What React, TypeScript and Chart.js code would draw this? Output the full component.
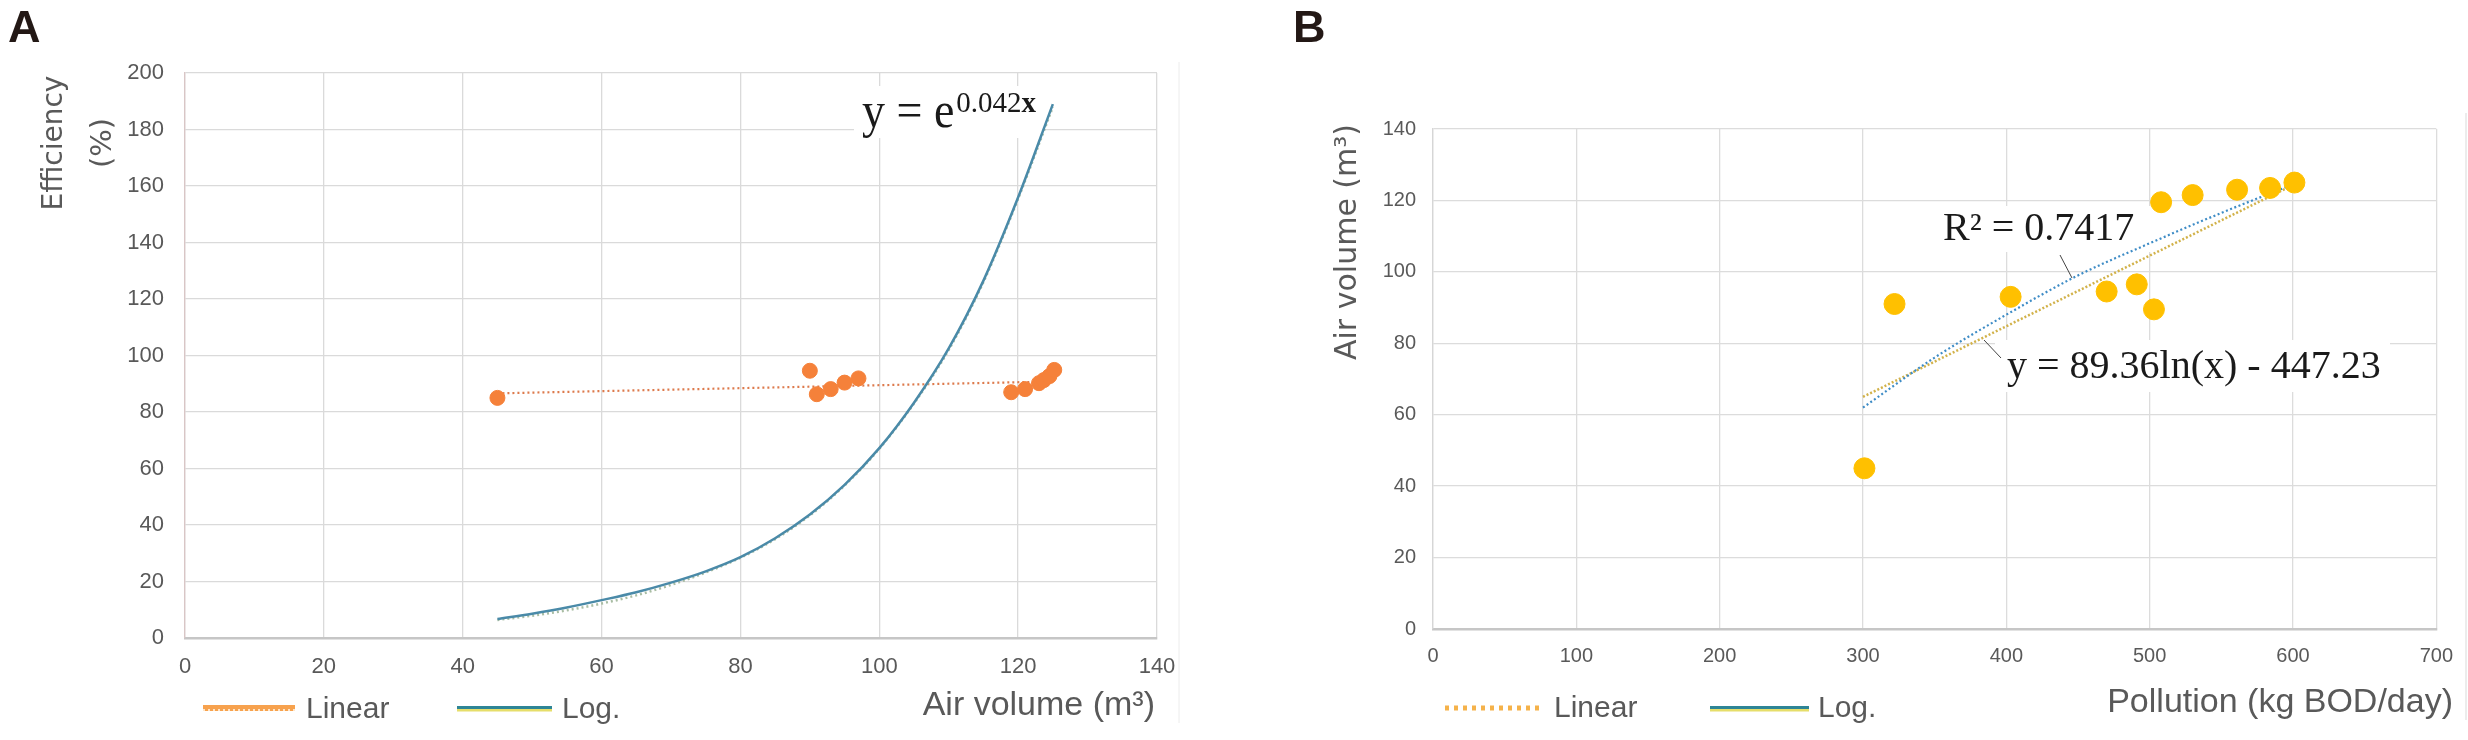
import React, { useEffect, useRef } from "react";
import { Chart, registerables } from "chart.js";

Chart.register(...registerables);

// ---------------- Panel A : Efficiency vs air volume ----------------
const effAirVolume = [45, 90, 91, 93, 95, 97, 119, 121, 123, 123.7, 124.5, 125.2];
const effPercent = [85, 94.6, 86.3, 88.1, 90.4, 91.9, 87, 88.1, 90.2, 91.3, 92.7, 94.9];
const effLinearX = [45, 125];
const effLinearY = [86.6, 90.8];
const effExpX = [45, 50, 55, 60, 65, 70, 75, 80, 85, 90, 95, 100, 105, 110, 115, 120, 125];
const effExpY = [6.7, 8.6, 10.8, 13.4, 16.2, 19.6, 23.6, 28.6, 35.3, 43.7, 54.2, 67.2, 83.3, 102.5, 126.5, 156, 189];
const effExpDotY = [6.4, 7.9, 9.8, 12.2, 15.1, 18.8, 23.2, 28.4, 35, 43.4, 54, 67, 83, 102, 126, 155.5, 188];
const xTicksA = [0, 20, 40, 60, 80, 100, 120, 140];
const yTicksA = [0, 20, 40, 60, 80, 100, 120, 140, 160, 180, 200];

// ---------------- Panel B : Air volume vs pollution ----------------
const pollutionKg = [301, 322, 403, 470, 491, 503, 508, 530, 561, 584, 601];
const airVolumeB = [45, 91, 93, 94.5, 96.5, 89.5, 119.5, 121.5, 123, 123.5, 125];
const linTrendX = [300, 600];
const linTrendY = [65, 124.3];
const logTrendX = [300, 350, 400, 450, 500, 550, 600];
const logTrendY = [62, 76, 88, 99, 108, 116.5, 124.5];
const xTicksB = [0, 100, 200, 300, 400, 500, 600, 700];
const yTicksB = [0, 20, 40, 60, 80, 100, 120, 140];

// ---------------- Texts ----------------
const legendLabels = ["Linear", "Log."];
const titleA_y = ["Efficiency", "(%)"];
const titleA_x = "Air volume (m³)";
const titleB_y = "Air volume (m³)";
const titleB_x = "Pollution (kg BOD/day)";
const eqA_base = "y = e";
const eqA_exp = "0.042";
const eqA_var = "x";
const eqB_r2 = "R² = 0.7417";
const eqB_log = "y = 89.36ln(x) - 447.23";

const NARROW = "'Liberation Sans Narrow', 'Liberation Sans', Arial, sans-serif";
const SANS = "'Liberation Sans', Arial, sans-serif";
const WIDE = "'DejaVu Sans', Verdana, sans-serif";
const SERIF = "'Liberation Serif', 'Times New Roman', serif";
const GREY = "#595959";

const pts = (xs: number[], ys: number[]) => xs.map((x, i) => ({ x, y: ys[i] }));

type Deco = (ctx: CanvasRenderingContext2D, chart: any) => void;

const decoPlugin = (before: Deco, after: Deco) => ({
  id: "deco",
  beforeDatasetsDraw(chart: any) {
    const c = chart.ctx;
    c.save();
    before(c, chart);
    c.restore();
  },
  afterDraw(chart: any) {
    const c = chart.ctx;
    c.save();
    after(c, chart);
    c.restore();
  },
});

function rotText(ctx: CanvasRenderingContext2D, text: string, x: number, y: number, font: string) {
  ctx.save();
  ctx.font = font;
  ctx.textAlign = "center";
  ctx.textBaseline = "alphabetic";
  ctx.translate(x, y);
  ctx.rotate(-Math.PI / 2);
  ctx.fillText(text, 0, 0);
  ctx.restore();
}

function line(ctx: CanvasRenderingContext2D, x1: number, y1: number, x2: number, y2: number, color: string, w: number, dash: number[] = []) {
  ctx.save();
  ctx.strokeStyle = color;
  ctx.lineWidth = w;
  ctx.setLineDash(dash);
  ctx.beginPath();
  ctx.moveTo(x1, y1);
  ctx.lineTo(x2, y2);
  ctx.stroke();
  ctx.restore();
}

function legendLog(ctx: CanvasRenderingContext2D, x1: number, x2: number, y: number) {
  line(ctx, x1, y + 1, x2, y + 1, "#E6DE6A", 5);
  line(ctx, x1, y - 0.5, x2, y - 0.5, "#2E8596", 3);
}

function scaleOpts(ticks: number[], axis: "x" | "y", fontSize: number, pad: number, size: number, gridColor: any, border: any) {
  return {
    type: "linear",
    min: ticks[0],
    max: ticks[ticks.length - 1],
    afterBuildTicks: (s: any) => {
      s.ticks = ticks.map((v) => ({ value: v }));
    },
    ticks: { color: GREY, font: { family: NARROW, size: fontSize }, padding: pad, autoSkip: false, maxRotation: 0 },
    grid: { color: gridColor, lineWidth: 1.3, drawTicks: false },
    border,
    afterFit: (s: any) => {
      if (axis === "x") s.height = size;
      else s.width = size;
    },
  };
}

function configA(): any {
  const before: Deco = (ctx) => {
    ctx.fillStyle = "#ffffff";
    ctx.fillRect(854, 86, 190, 52);
  };
  const after: Deco = (ctx) => {
    ctx.fillStyle = GREY;
    rotText(ctx, titleA_y[0], 62, 143, `28px ${WIDE}`);
    rotText(ctx, titleA_y[1], 111, 143, `29px ${WIDE}`);
    ctx.font = `34px ${SANS}`;
    ctx.textAlign = "right";
    ctx.textBaseline = "alphabetic";
    ctx.fillText(titleA_x, 1155, 715);
    // legend
    line(ctx, 203, 708, 295, 708, "#F7A24E", 6);
    line(ctx, 203, 710, 295, 710, "#FFE6C8", 2, [2, 3]);
    ctx.textAlign = "left";
    ctx.font = `30px ${SANS}`;
    ctx.fillText(legendLabels[0], 306, 718);
    legendLog(ctx, 457, 552, 708);
    ctx.fillText(legendLabels[1], 562, 718);
    // equation
    ctx.fillStyle = "#1a1a1a";
    ctx.save();
    ctx.translate(862, 127);
    ctx.scale(0.92, 1);
    ctx.font = `50px ${SERIF}`;
    ctx.fillText(eqA_base, 0, 0);
    const w = ctx.measureText(eqA_base).width * 0.92;
    ctx.restore();
    ctx.font = `29px ${SERIF}`;
    const sx = 862 + w + 2;
    ctx.fillText(eqA_exp, sx, 112);
    const w2 = ctx.measureText(eqA_exp).width;
    ctx.font = `bold 29px ${SERIF}`;
    ctx.fillText(eqA_var, sx + w2, 112);
    // panel letter
    ctx.fillStyle = "#231815";
    ctx.font = `bold 45px ${SANS}`;
    ctx.fillText("A", 8, 42);
    line(ctx, 1179, 62, 1179, 723, "#ececec", 1);
  };
  return {
    type: "scatter",
    data: {
      datasets: [
        { data: pts(effAirVolume, effPercent), backgroundColor: "#F5813A", borderColor: "#F5813A", pointRadius: 7.5, pointHoverRadius: 7.5, order: 0 },
        { data: pts(effLinearX, effLinearY), showLine: true, borderColor: "#DD7A4C", borderWidth: 2.2, borderDash: [2, 3], pointRadius: 0, order: 3 },
        { data: pts(effExpX, effExpDotY), showLine: true, borderColor: "#A9BDA4", borderWidth: 2.5, borderDash: [2, 3], pointRadius: 0, cubicInterpolationMode: "monotone", order: 2 },
        { data: pts(effExpX, effExpY), showLine: true, borderColor: "#4A8AA8", borderWidth: 2.5, pointRadius: 0, cubicInterpolationMode: "monotone", order: 1 },
      ],
    },
    options: {
      responsive: false,
      animation: false,
      events: [],
      plugins: { legend: { display: false }, tooltip: { enabled: false } },
      layout: { padding: { left: 0, top: 73, right: 83, bottom: 0 } },
      scales: {
        x: scaleOpts(xTicksA, "x", 22, 16, 102, "#dadada", { color: "#c6c6c6", width: 2.5 }),
        y: scaleOpts(yTicksA, "y", 22, 21, 185, "#dadada", { color: "#d9c6c6", width: 1.3 }),
      },
    },
    plugins: [decoPlugin(before, after)],
  };
}

function configB(): any {
  const OX = 1240;
  const before: Deco = (ctx) => {
    ctx.fillStyle = "#ffffff";
    ctx.fillRect(1935 - OX, 206, 216, 46);
    ctx.fillRect(1995 - OX, 340, 395, 52);
  };
  const after: Deco = (ctx) => {
    ctx.fillStyle = GREY;
    rotText(ctx, titleB_y, 1356 - OX, 242, `30px ${WIDE}`);
    ctx.font = `34px ${SANS}`;
    ctx.textAlign = "right";
    ctx.textBaseline = "alphabetic";
    ctx.fillText(titleB_x, 2453 - OX, 712);
    // legend
    line(ctx, 1445 - OX, 708, 1544 - OX, 708, "#F5B24A", 5, [4, 5]);
    ctx.textAlign = "left";
    ctx.font = `30px ${SANS}`;
    ctx.fillText(legendLabels[0], 1554 - OX, 717);
    legendLog(ctx, 1710 - OX, 1809 - OX, 708);
    ctx.fillText(legendLabels[1], 1818 - OX, 717);
    // equations
    ctx.fillStyle = "#1a1a1a";
    ctx.font = `40px ${SERIF}`;
    ctx.fillText(eqB_r2, 1943 - OX, 240);
    ctx.font = `40px ${SERIF}`;
    ctx.fillText(eqB_log, 2007 - OX, 378);
    line(ctx, 2060 - OX, 255, 2072 - OX, 278, "#444", 1);
    line(ctx, 1984 - OX, 340, 2001 - OX, 358, "#444", 1);
    // panel letter
    ctx.fillStyle = "#231815";
    ctx.font = `bold 45px ${SANS}`;
    ctx.fillText("B", 1293 - OX, 42);
    line(ctx, 2466 - OX, 113, 2466 - OX, 720, "#e6e6e6", 1.5);
  };
  return {
    type: "scatter",
    data: {
      datasets: [
        { data: pts(pollutionKg, airVolumeB), backgroundColor: "#FFC000", borderColor: "#FFC000", pointRadius: 10.5, pointHoverRadius: 10.5, order: 0 },
        { data: pts(linTrendX, linTrendY), showLine: true, borderColor: "#D2B24A", borderWidth: 2.5, borderDash: [2, 2], pointRadius: 0, order: 2 },
        { data: pts(logTrendX, logTrendY), showLine: true, borderColor: "#3E8CC6", borderWidth: 2.2, borderDash: [2, 2.5], pointRadius: 0, cubicInterpolationMode: "monotone", order: 1 },
      ],
    },
    options: {
      responsive: false,
      animation: false,
      events: [],
      plugins: { legend: { display: false }, tooltip: { enabled: false } },
      layout: { padding: { left: 0, top: 129, right: 23, bottom: 0 } },
      scales: {
        x: scaleOpts(xTicksB, "x", 20, 15, 111, "#dcdcdc", { color: "#c6c6c6", width: 2.5 }),
        y: scaleOpts(yTicksB, "y", 20, 17, 193, "#dcdcdc", { color: "#d6d6d6", width: 1.3 }),
      },
    },
    plugins: [decoPlugin(before, after)],
  };
}

export default function App() {
  const refA = useRef<HTMLCanvasElement>(null);
  const refB = useRef<HTMLCanvasElement>(null);
  useEffect(() => {
    const a = new Chart(refA.current as HTMLCanvasElement, configA());
    const b = new Chart(refB.current as HTMLCanvasElement, configB());
    return () => {
      a.destroy();
      b.destroy();
    };
  }, []);
  return (
    <div style={{ position: "absolute", left: 0, top: 0, width: 2468, height: 740, background: "#ffffff" }}>
      <canvas ref={refA} width={1240} height={740} style={{ position: "absolute", left: 0, top: 0, width: 1240, height: 740 }} />
      <canvas ref={refB} width={1228} height={740} style={{ position: "absolute", left: 1240, top: 0, width: 1228, height: 740 }} />
    </div>
  );
}
